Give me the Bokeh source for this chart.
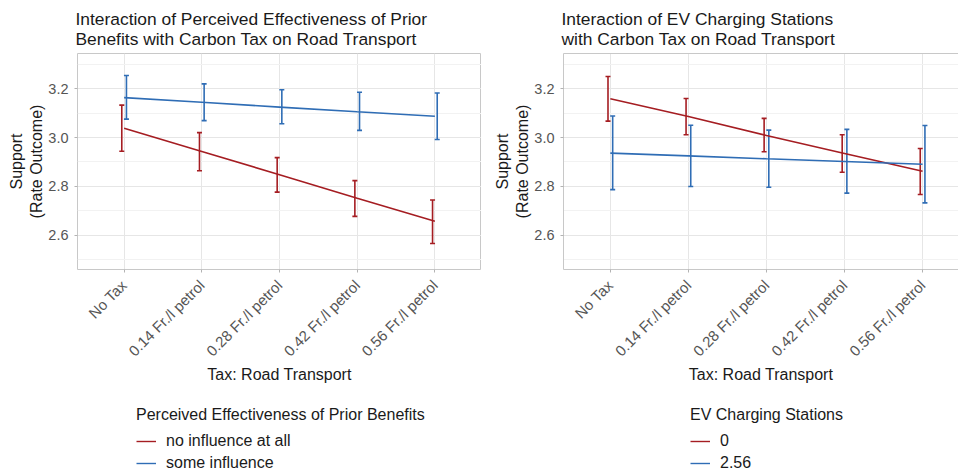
import math
from bokeh.plotting import figure
from bokeh.layouts import row, column
from bokeh.models import (Range1d, FixedTicker, ColumnDataSource, Whisker, Legend,
                          LegendItem, LinearAxis, NumeralTickFormatter)
from bokeh.transform import dodge
from bokeh.embed import file_html
from bokeh.resources import INLINE

# ---------------- data ----------------
tax_levels = ["No Tax", "0.14 Fr./l petrol", "0.28 Fr./l petrol",
              "0.42 Fr./l petrol", "0.56 Fr./l petrol"]

# Panel 1: Perceived Effectiveness of Prior Benefits
p1_groups = ["no influence at all", "some influence"]
p1_no_mean = [3.038, 2.943, 2.848, 2.752, 2.658]
p1_no_low = [2.944, 2.864, 2.777, 2.678, 2.567]
p1_no_high = [3.132, 3.020, 2.918, 2.824, 2.745]
p1_some_mean = [3.163, 3.144, 3.124, 3.105, 3.087]
p1_some_low = [3.075, 3.069, 3.056, 3.029, 2.992]
p1_some_high = [3.253, 3.219, 3.195, 3.185, 3.182]

# Panel 2: EV Charging Stations
p2_groups = ["0", "2.56"]
p2_zero_mean = [3.158, 3.086, 3.008, 2.935, 2.862]
p2_zero_low = [3.067, 3.011, 2.942, 2.858, 2.767]
p2_zero_high = [3.249, 3.159, 3.078, 3.011, 2.955]
p2_hi_mean = [2.936, 2.925, 2.913, 2.902, 2.891]
p2_hi_low = [2.787, 2.800, 2.797, 2.773, 2.733]
p2_hi_high = [3.088, 3.050, 3.030, 3.033, 3.049]

y_major = [2.6, 2.8, 3.0, 3.2]
y_minor = [2.5, 2.7, 2.9, 3.1, 3.3]

RED = "#A51D22"
BLUE = "#2F6DB5"
FONT = "Liberation Sans"
GRID = "#E6E6E6"
MINOR_GRID = "#F2F2F2"
BORDER = "#C8C8C8"
TICK_TXT = "#555555"
TXT = "#1A1A1A"

PLOT_H = 392
LEG_H = 472 - PLOT_H

xpos = list(range(len(tax_levels)))


def make_panel(title, legend_title, groups, series, width, left_border, x_end,
               cropped, legend_x):
    p = figure(width=width, height=PLOT_H, output_backend="svg", toolbar_location=None,
               x_range=Range1d(-0.6, x_end), y_range=Range1d(2.461, 3.343),
               min_border_left=left_border, min_border_right=0,
               min_border_top=53, min_border_bottom=PLOT_H - 269,
               title=title)
    p.title.text_font = FONT
    p.title.text_font_size = "17.4px"
    p.title.text_font_style = "normal"
    p.title.text_color = TXT
    p.title.text_line_height = 1.0
    p.title.standoff = 9
    p.title.offset = -2

    p.background_fill_color = "white"
    p.border_fill_color = "white"
    if cropped:
        p.outline_line_color = None
    else:
        p.outline_line_color = BORDER
        p.outline_line_width = 1

    xa = p.xaxis[0]
    xa.ticker = FixedTicker(ticks=xpos)
    xa.major_label_overrides = {i: t for i, t in zip(xpos, tax_levels)}
    xa.major_label_orientation = math.pi / 4
    xa.axis_label = "Tax: Road Transport"
    ya = p.yaxis[0]
    ya.ticker = FixedTicker(ticks=y_major, minor_ticks=y_minor)
    ya.formatter = NumeralTickFormatter(format="0.0")
    ya.axis_label = "Support\n(Rate Outcome)"
    for ax in (xa, ya):
        ax.axis_line_color = BORDER if cropped else None
        ax.major_tick_line_color = "#B3B3B3"
        ax.major_tick_in = 0
        ax.major_tick_out = 3
        ax.minor_tick_line_color = None
        ax.major_label_text_font = FONT
        ax.major_label_text_color = TICK_TXT
        ax.axis_label_text_font = FONT
        ax.axis_label_text_font_size = "16px"
        ax.axis_label_text_font_style = "normal"
        ax.axis_label_text_color = TXT
    xa.major_label_text_font_size = "15px"
    ya.major_label_text_font_size = "14.5px"
    xa.major_label_standoff = 10
    xa.axis_label_standoff = -2
    ya.major_label_standoff = 5
    ya.axis_label_standoff = 0

    if cropped:
        top = LinearAxis(ticker=FixedTicker(ticks=[]), major_label_text_font_size="0px",
                         major_tick_out=0, major_tick_in=0, minor_tick_out=0,
                         axis_line_color=BORDER, major_label_standoff=0)
        p.add_layout(top, "above")

    p.xgrid.grid_line_color = GRID
    p.ygrid.grid_line_color = GRID
    p.ygrid.minor_grid_line_color = MINOR_GRID

    # legend figure underneath (its frame is aligned with the plot frame by the column)
    lf = figure(width=width, height=LEG_H, output_backend="svg", toolbar_location=None,
                x_range=Range1d(0, 1), y_range=Range1d(0, 1),
                x_axis_location=None, y_axis_location=None,
                min_border_left=0, min_border_right=0, min_border_top=0, min_border_bottom=0)
    lf.outline_line_color = None
    lf.grid.grid_line_color = None
    lf.background_fill_color = "white"
    lf.border_fill_color = "white"

    items = []
    for (name, mean, low, high, color, off) in series:
        src = ColumnDataSource(dict(x=xpos, y=mean, lo=low, hi=high))
        p.line("x", "y", source=src, line_color=color, line_width=1.6)
        w = Whisker(source=src, base=dodge("x", off, range=p.x_range), upper="hi", lower="lo",
                    dimension="height", line_color=color, line_width=1.6)
        for h in (w.upper_head, w.lower_head):
            h.size = 5
            h.line_color = color
            h.line_width = 1.6
        p.add_layout(w)
        # proxy renderer (outside the visible range) used only for the legend glyph
        lr = lf.line(x=[-5, -4], y=[-5, -5], line_color=color, line_width=1.4)
        items.append(LegendItem(label=name, renderers=[lr]))

    leg = Legend(items=items, title=legend_title, location=(legend_x, 0),
                 orientation="vertical")
    leg.title_text_font = FONT
    leg.title_text_font_size = "16px"
    leg.title_text_font_style = "normal"
    leg.title_text_color = TXT
    leg.title_standoff = 8
    leg.label_text_font = FONT
    leg.label_text_font_size = "16px"
    leg.label_text_color = TXT
    leg.glyph_width = 20
    leg.glyph_height = 18
    leg.label_height = 18
    leg.spacing = 4
    leg.label_standoff = 10
    leg.padding = 0
    leg.margin = 0
    leg.border_line_color = None
    leg.background_fill_color = None
    lf.add_layout(leg, "center")
    return column(p, lf, spacing=0)


c1 = make_panel("Interaction of Perceived Effectiveness of Prior\nBenefits with Carbon Tax on Road Transport",
                "Perceived Effectiveness of Prior Benefits", p1_groups,
                [(p1_groups[0], p1_no_mean, p1_no_low, p1_no_high, RED, -0.03),
                 (p1_groups[1], p1_some_mean, p1_some_low, p1_some_high, BLUE, 0.03)],
                width=481, left_border=77, x_end=4.6, cropped=False, legend_x=59)

c2 = make_panel("Interaction of EV Charging Stations\nwith Carbon Tax on Road Transport",
                "EV Charging Stations", p2_groups,
                [(p2_groups[0], p2_zero_mean, p2_zero_low, p2_zero_high, RED, -0.03),
                 (p2_groups[1], p2_hi_mean, p2_hi_low, p2_hi_high, BLUE, 0.03)],
                width=477, left_border=82, x_end=4.46, cropped=True, legend_x=127)

layout = row(c1, c2, spacing=0)
open("out.html", "w").write(file_html(layout, INLINE))
